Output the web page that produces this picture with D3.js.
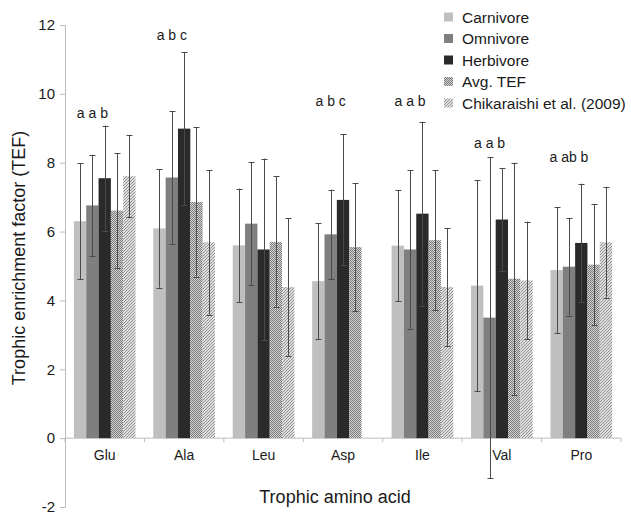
<!DOCTYPE html>
<html><head><meta charset="utf-8">
<script src="https://cdn.jsdelivr.net/npm/d3@7"></script>
<style>body{margin:0;background:#fff}svg{display:block}text{font-family:Arial,"Liberation Sans",sans-serif}</style>
</head><body><svg id="c" width="631" height="514"></svg>
<script>
const categories = ["Glu","Ala","Leu","Asp","Ile","Val","Pro"];
const seriesNames = ["Carnivore","Omnivore","Herbivore","Avg. TEF","Chikaraishi et al. (2009)"];
const carnivore   = [6.30, 6.09, 5.60, 4.56, 5.59, 4.43, 4.88];
const carnivoreErr= [1.69, 1.72, 1.65, 1.69, 1.62, 3.07, 1.83];
const omnivore    = [6.76, 7.57, 6.23, 5.92, 5.48, 3.50, 4.98];
const omnivoreErr = [1.47, 1.93, 1.78, 1.30, 2.30, 4.67, 1.42];
const herbivore   = [7.55, 8.99, 5.48, 6.92, 6.52, 6.35, 5.67];
const herbivoreErr= [1.53, 2.22, 2.64, 1.90, 2.67, 1.50, 1.72];
const avgTEF      = [6.61, 6.86, 5.70, 5.55, 5.75, 4.63, 5.04];
const avgTEFErr   = [1.67, 2.17, 1.90, 1.86, 2.04, 3.37, 1.76];
const chikaraishi    = [7.61, 5.69, 4.39, null, 4.39, 4.58, 5.69];
const chikaraishiErr = [1.20, 2.10, 2.00, null, 1.71, 1.71, 1.61];
const sigLetters  = ["a a b","a b c","","a b c","a a b","a a b","a ab b"];
const sigLetterY  = [9.30, 11.57, null, 9.65, 9.65, 8.43, 8.03];
const yTicks = [-2,0,2,4,6,8,10,12];
const yTickLabels = ["-2","0","2","4","6","8","10","12"];

const values = [carnivore, omnivore, herbivore, avgTEF, chikaraishi];
const errors = [carnivoreErr, omnivoreErr, herbivoreErr, avgTEFErr, chikaraishiErr];

const svg = d3.select("#c");
const defs = svg.append("defs");
const p1 = defs.append("pattern").attr("id","pAvg").attr("width",2).attr("height",2).attr("patternUnits","userSpaceOnUse");
p1.append("rect").attr("width",2).attr("height",2).attr("fill","#d4d4d4");
p1.append("rect").attr("width",1).attr("height",1).attr("fill","#7a7a7a");
p1.append("rect").attr("x",1).attr("y",1).attr("width",1).attr("height",1).attr("fill","#7a7a7a");
const p2 = defs.append("pattern").attr("id","pChi").attr("width",3).attr("height",3).attr("patternUnits","userSpaceOnUse");
p2.append("rect").attr("width",3).attr("height",3).attr("fill","#dedede");
p2.append("path").attr("d","M0,3 L3,0 M-1,1 L1,-1 M2,4 L4,2").attr("stroke","#8a8a8a").attr("stroke-width",0.9);

const fills = ["#bfbfbf","#7f7f7f","#2a2a2a","url(#pAvg)","url(#pChi)"];

const x0 = d3.scaleBand().domain(categories).range([65,621]).paddingInner(0).paddingOuter(0);
const x1 = d3.scaleBand().domain(seriesNames).range([0,x0.bandwidth()]).paddingInner(0).paddingOuter(0.72);
const y = d3.scaleLinear().domain([-2,12]).range([507,25]);

const yAxis = svg.append("g").attr("transform","translate(65,0)")
  .call(d3.axisLeft(y).tickValues(yTicks).tickSize(5).tickPadding(5).tickFormat((d,i)=>yTickLabels[i]));
yAxis.select(".domain").attr("stroke","#bdbdbd");
yAxis.selectAll(".tick line").attr("stroke","#bdbdbd");
yAxis.selectAll(".tick text").attr("font-size",15).attr("fill","#1a1a1a");

const xAxis = svg.append("g").attr("transform",`translate(0,${y(0)})`);
xAxis.append("line").attr("x1",65).attr("x2",621).attr("stroke","#bdbdbd");
const bounds = categories.map(c=>x0(c)).concat([x0(categories[categories.length-1])+x0.step()]);
xAxis.selectAll("line.tk").data(bounds).join("line").attr("class","tk")
  .attr("x1",d=>d).attr("x2",d=>d).attr("y1",0).attr("y2",4).attr("stroke","#bdbdbd");
xAxis.selectAll("text").data(categories).join("text")
  .attr("x",d=>x0(d)+x0.bandwidth()/2).attr("y",22).attr("text-anchor","middle")
  .attr("font-size",14).attr("fill","#1a1a1a").text(d=>d);

const barData = [];
categories.forEach((c,i)=>seriesNames.forEach((s,j)=>{
  if(values[j][i]!=null) barData.push({c,s,j,v:values[j][i],e:errors[j][i]});
}));
svg.append("g").selectAll("rect").data(barData).join("rect")
  .attr("x",d=>x0(d.c)+x1(d.s)).attr("width",x1.bandwidth())
  .attr("y",d=>y(Math.max(0,d.v))).attr("height",d=>Math.abs(y(d.v)-y(0)))
  .attr("fill",d=>fills[d.j]);

const eg = svg.append("g").attr("stroke","#4a4a4a").attr("stroke-width",1);
barData.forEach(d=>{
  const cx = Math.round(x0(d.c)+x1(d.s)+x1.bandwidth()/2)+0.5;
  eg.append("line").attr("x1",cx).attr("x2",cx).attr("y1",y(d.v+d.e)).attr("y2",y(d.v-d.e));
  [d.v+d.e,d.v-d.e].forEach(t=>eg.append("line").attr("x1",cx-3).attr("x2",cx+3).attr("y1",Math.round(y(t))+0.5).attr("y2",Math.round(y(t))+0.5));
});

svg.append("g").selectAll("text").data(categories.map((c,i)=>({c,t:sigLetters[i],v:sigLetterY[i]})).filter(d=>d.t))
  .join("text")
  .attr("x",d=>(x0(d.c)+x1(seriesNames[0])+x0(d.c)+x1(seriesNames[2])+x1.bandwidth())/2)
  .attr("y",d=>y(d.v)).attr("text-anchor","middle").attr("font-size",14).attr("fill","#1a1a1a")
  .text(d=>d.t);

svg.append("text").attr("transform","translate(25,258) rotate(-90)").attr("text-anchor","middle")
  .attr("font-size",18).attr("fill","#1a1a1a").text("Trophic enrichment factor (TEF)");
svg.append("text").attr("x",335).attr("y",503).attr("text-anchor","middle")
  .attr("font-size",18).attr("fill","#1a1a1a").text("Trophic amino acid");

const lg = svg.append("g").attr("transform","translate(444,0)");
seriesNames.forEach((s,j)=>{
  const cy = 17 + j*21.5;
  lg.append("rect").attr("x",0).attr("y",cy-4.5).attr("width",9).attr("height",9).attr("fill",fills[j]);
  lg.append("text").attr("x",18).attr("y",cy+5.5).attr("font-size",15.5).attr("fill","#1a1a1a").text(s);
});
</script></body></html>
